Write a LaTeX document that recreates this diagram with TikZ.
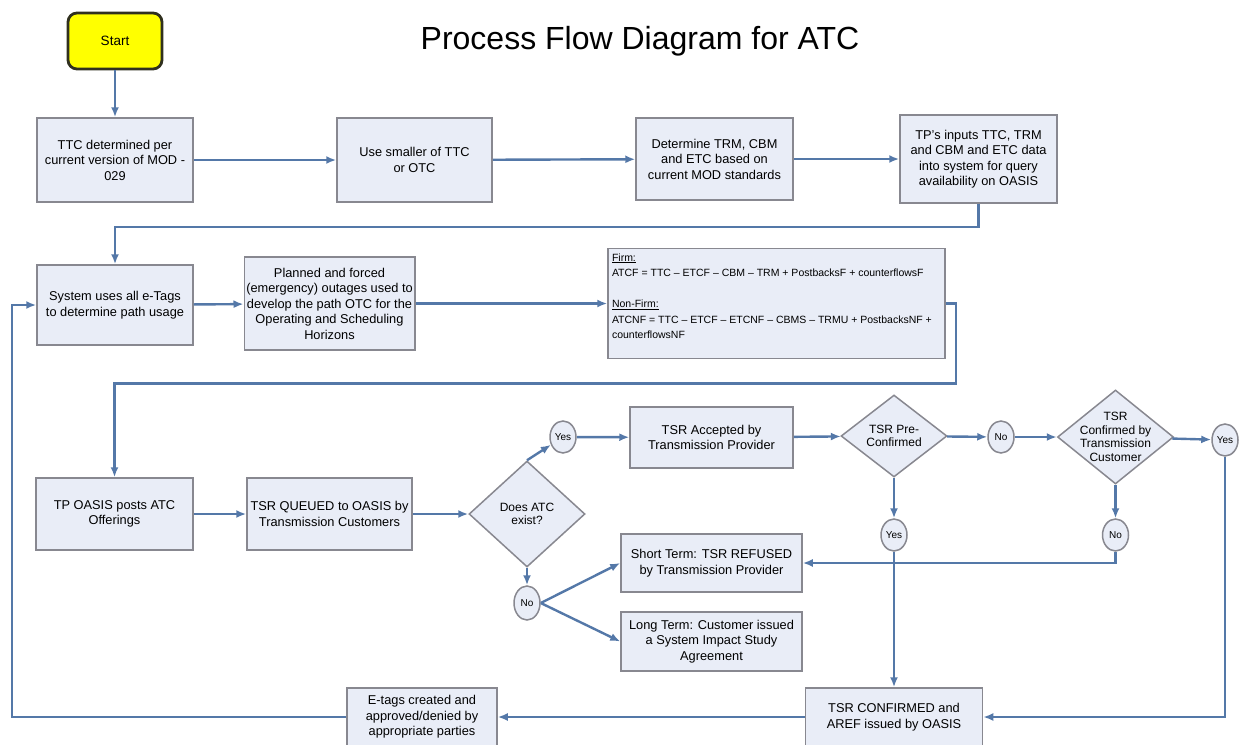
\documentclass[tikz,border=0pt]{standalone}
\usepackage{fontspec}
\setsansfont{Liberation Sans}
\usepackage{tikz}
\usetikzlibrary{positioning, shapes, calc, arrows.meta}

\definecolor{boxfill}{RGB}{233,237,247}
\definecolor{boxline}{RGB}{136,136,144}
\definecolor{flowline}{RGB}{84,120,168}
\definecolor{startfill}{RGB}{255,255,0}
\definecolor{startline}{RGB}{48,48,30}

\tikzset{
  boxfont/.style={font=\sffamily\fontsize{12.8}{15.5}\selectfont},
  smallfont/.style={font=\sffamily\fontsize{10}{11}\selectfont},
  procbox/.style={draw=boxline, line width=1.5pt, fill=boxfill, align=center, inner sep=2pt, boxfont},
  startbox/.style={draw=startline, line width=2.8pt, fill=startfill, rounded corners=9pt, minimum width=94, minimum height=56, font=\sffamily\fontsize{13.5}{15}\selectfont},
  decision/.style={diamond, draw=boxline, line width=1.5pt, fill=boxfill, inner sep=0pt},
  decisiontext/.style={align=center, font=\sffamily\fontsize{12}{13.5}\selectfont},
  answer/.style={ellipse, draw=boxline, line width=1.5pt, fill=boxfill, minimum width=26, minimum height=32, inner sep=0pt, smallfont},
  flow/.style={draw=flowline, line width=2.4pt, -{Latex[length=10pt,width=8pt]}}
}

\begin{document}
\begin{tikzpicture}[x=1pt, y=-1pt]

\useasboundingbox (0,0) rectangle (1241,744);

%//title and start
\node [font=\sffamily\fontsize{32}{36}\selectfont] (title) at (640,41) {Process Flow Diagram for ATC};
\node [startbox] (start) at (115,41) {Start};

%//row one
\node [procbox, minimum width=156, minimum height=84] (ttc) at (115,160) {TTC determined per\\current version of MOD -\\029};
\node [procbox, minimum width=155, minimum height=84] (smaller) at (414.5,160) {Use smaller of TTC\\or OTC};
\node [procbox, minimum width=157, minimum height=82] (determine) at (714.5,159) {Determine TRM, CBM\\and ETC based on\\current MOD standards};
\node [procbox, minimum width=157, minimum height=88] (tpinput) at (978.5,159) {TP's inputs TTC, TRM\\and CBM and ETC data\\into system for query\\availability on OASIS};

%//row two
\node [procbox, minimum width=156, minimum height=80] (system) at (115,305) {System uses all e-Tags\\to determine path usage};
\node [procbox, minimum width=163, minimum height=93] (planned) at (329.5,303.5) {Planned and forced\\(emergency) outages used to\\develop the path OTC for the\\Operating and Scheduling\\Horizons};
\node [procbox, minimum width=337, minimum height=110, inner sep=4pt] (formula) at (776.5,303.5)
  {\begin{minipage}[t][100pt][t]{329pt}\raggedright\fontsize{10.5}{15.5}\selectfont
   \underline{Firm:}\\ATCF = TTC -- ETCF -- CBM -- TRM + PostbacksF + counterflowsF\\[15.5pt]
   \underline{Non-Firm:}\\ATCNF = TTC -- ETCF -- ETCNF -- CBMS -- TRMU + PostbacksNF +\\counterflowsNF
   \end{minipage}};

%//row three
\node [procbox, minimum width=157, minimum height=72] (tposts) at (114.5,514) {TP OASIS posts ATC\\Offerings};
\node [procbox, minimum width=165, minimum height=72] (queued) at (329.5,514) {TSR QUEUED to OASIS by\\Transmission Customers};
\node [decision, minimum width=116, minimum height=106, label={[decisiontext]center:Does ATC\\exist?}] (atcq) at (527,514) {};

\node [answer] (yes1) at (563,437) {Yes};
\node [procbox, minimum width=163, minimum height=61] (accepted) at (711.5,437.5) {TSR Accepted by\\Transmission Provider};
\node [decision, minimum width=106, minimum height=82, label={[decisiontext]center:TSR Pre-\\Confirmed}] (preconf) at (894,436) {};
\node [answer] (no1) at (1001,437) {No};
\node [decision, minimum width=116, minimum height=94, label={[decisiontext]center:TSR\\Confirmed by\\Transmission\\Customer}] (confirm) at (1115.5,437) {};
\node [answer] (yes3) at (1225,440) {Yes};

\node [answer] (yes2) at (894,535) {Yes};
\node [answer] (no2) at (1115.5,535) {No};
\node [answer, minimum height=34] (no3) at (527,603) {No};

\node [procbox, minimum width=181, minimum height=58] (refused) at (711.5,563) {Short Term: TSR REFUSED\\by Transmission Provider};
\node [procbox, minimum width=181, minimum height=59] (longterm) at (711.5,641.5) {Long Term: Customer issued\\a System Impact Study\\Agreement};

%//bottom row
\node [procbox, minimum width=177, minimum height=58] (confirmed) at (894,717) {TSR CONFIRMED and\\AREF issued by OASIS};
\node [procbox, minimum width=150, minimum height=58] (etags) at (422,717) {E-tags created and\\approved/denied by\\appropriate parties};

\coordinate (loopcorner) at (12,717);

%//connectors
\draw [flow] (start) -- (ttc);
\draw [flow] (ttc) -- (smaller);
\draw [flow] (smaller) -- (determine);
\draw [flow] (determine) -- (tpinput);
\draw [flow] (tpinput.south) -- ++(0,23) -| (system.north);
\draw [flow] (system) -- (planned);
\draw [flow] (planned) -- (formula);
\draw [flow] (formula.east) -- ++(10,0) -- ++(0,80) -| (tposts.north);
\draw [flow] (tposts) -- (queued);
\draw [flow] (queued) -- (atcq);
\draw [flow] (atcq.north) -- (yes1);
\draw [flow] (yes1) -- (accepted);
\draw [flow] (accepted) -- (preconf);
\draw [flow] (preconf) -- (no1);
\draw [flow] (no1) -- (confirm);
\draw [flow] (confirm) -- (yes3);
\draw [flow] (preconf.south) -- (yes2);
\draw [flow] (confirm.south) -- (no2);
\draw [flow] (no2.south) |- (refused.east);
\draw [flow] (yes2.south) -- (confirmed.north);
\draw [flow] (yes3.south) |- (confirmed.east);
\draw [flow] (atcq.south) -- (no3);
\draw [flow] (no3.east) -- (refused.west);
\draw [flow] (no3.east) -- (longterm.west);
\draw [flow] (confirmed) -- (etags);
\draw [flow] (etags.west) -- (loopcorner) |- (system.west);

\end{tikzpicture}
\end{document}
